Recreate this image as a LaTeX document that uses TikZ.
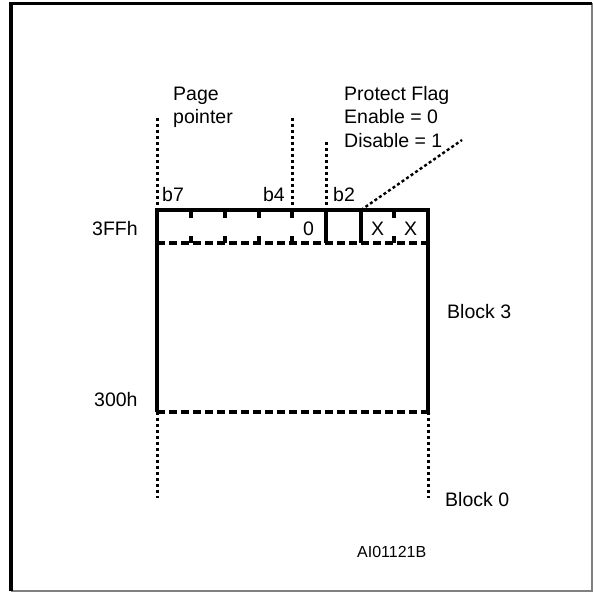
\documentclass[tikz,border=0pt]{standalone}
\usepackage{fontspec}
\setmainfont{Liberation Sans}
\usetikzlibrary{positioning}
\tikzstyle{lbl}=[inner sep=0pt, anchor=base west, font=\fontsize{19.5}{23}\selectfont]
\tikzstyle{wall}=[line width=3.2pt]
\tikzstyle{dotline}=[line width=3pt, dash pattern=on 3pt off 3pt]
\tikzstyle{dashline}=[line width=3.2pt, dash pattern=on 8pt off 4pt]

\begin{document}
\begin{tikzpicture}[x=1pt,y=-1pt]
	\useasboundingbox (0,0) rectangle (593,592);
	% frame
	\draw[gray, line width=1.2pt] (11,3.5) -- (592,3.5) -- (592,591) -- (11,591);
	\draw[line width=3.5pt] (11,591) -- (11,3.5) -- (592,3.5);
	% register corners
	\coordinate (tl) at (157,210);
	\coordinate (tr) at (428,210);
	\coordinate (ml) at (157,243);
	\coordinate (mr) at (428,243);
	\coordinate (bl) at (157,412);
	\coordinate (br) at (428,412);
	\coordinate (bitsev) at (157,118);
	\coordinate (bitfour) at (292,118);
	\coordinate (bittwo) at (326,142);
	\coordinate (flagpt) at (462,140);
	% labels
	\node[lbl] (page) at (173,100) {Page};
	\node[lbl] (pointer) at (173,123) {pointer};
	\node[lbl] (protect) at (344,100) {Protect Flag};
	\node[lbl] (enable) at (344,123) {Enable = 0};
	\node[lbl] (disable) at (344,147) {Disable = 1};
	\node[lbl] (b7) at (162,201) {b7};
	\node[lbl, anchor=base east] (b4) at (285,201) {b4};
	\node[lbl] (b2) at (333,201) {b2};
	\node[lbl] (top) at (92,235) {3FFh};
	\node[lbl] (bottom) at (94,406) {300h};
	\node[lbl] (zero) at (303,235) {0};
	\node[lbl, anchor=base] (xa) at (377.5,235) {X};
	\node[lbl, anchor=base] (xb) at (410.5,235) {X};
	\node[lbl] (blkthree) at (447,318) {Block 3};
	\node[lbl] (blkzero) at (445,506) {Block 0};
	\node[lbl, font=\fontsize{16}{19}\selectfont] (code) at (357,557) {AI01121B};
	% register box
	\draw[wall] (bl) -- (tl) -- (tr) -- (br);
	\draw[dashline] (ml) -- (mr);
	\draw[dashline] (bl) -- (br);
	\draw[wall] (326,210) -- (326,243);
	\draw[wall] (361,210) -- (361,243);
	\foreach \x in {191,225,259,292,394} {
		\draw[wall] (\x,210) -- (\x,218);
		\draw[wall] (\x,236) -- (\x,243);
	}
	% pointers
	\draw[dotline] (bitsev) -- (tl);
	\draw[dotline] (bitfour) -- (292,210);
	\draw[dotline] (bittwo) -- (326,210);
	\draw[dotline, line width=2.4pt, dash pattern=on 3pt off 2.5pt] (361,210) -- (flagpt);
	\draw[dotline] (bl) -- (157,498);
	\draw[dotline] (br) -- (428,498);
\end{tikzpicture}
\end{document}
